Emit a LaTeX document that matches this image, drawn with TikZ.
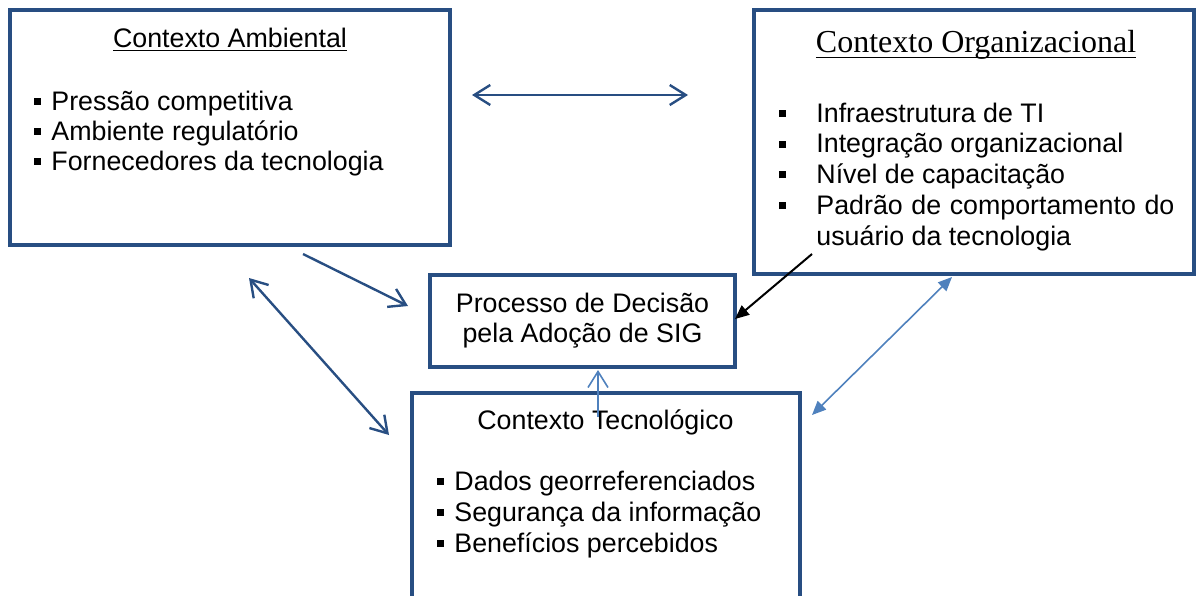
\documentclass[tikz,border=0pt]{standalone}
\usepackage{fontspec}
\setmainfont{Liberation Sans}
\newfontfamily\timesfont{Liberation Serif}
\usetikzlibrary{arrows.meta}
\definecolor{boxblue}{RGB}{40,78,130}
\definecolor{lightblue}{RGB}{79,129,189}
\newcommand{\sq}{\rule[2.6pt]{3.5pt}{3.5pt}}
\newcommand{\lowline}[1]{\setbox0\hbox{#1}\rlap{\rule[-3pt]{\wd0}{0.6pt}}\box0}
\tikzstyle{context} = [rectangle, draw = boxblue, line width = 2.2pt]
\tikzstyle{itemlist} = [anchor = base west, inner sep = 0pt, font = \fontsize{13.4}{15}\selectfont]
\tikzstyle{title} = [anchor = base, inner sep = 0pt, font = \fontsize{13.4}{15}\selectfont]

\begin{document}
\begin{tikzpicture}[x = 0.5pt, y = -0.5pt]
\useasboundingbox (0,0) rectangle (1197,595);

\node (ambBox) [context, minimum width = 220pt, minimum height = 117.5pt] at (230,127.5) {};
\node (orgBox) [context, minimum width = 220pt, minimum height = 132pt] at (974,142) {};
\node (procBox) [context, minimum width = 152.5pt, minimum height = 46pt, align = center, font = \fontsize{13.4}{15}\selectfont] at (582.5,321) {Processo de Decisão\\pela Adoção de SIG};
\node (tecBox) [context, minimum width = 194pt, minimum height = 128.5pt] at (606,521.5) {};

\node (ambTitle) [title] at (230,47) {\underline{Contexto Ambiental}};
\node (orgTitle) [title, font = \timesfont\fontsize{16}{19}\selectfont] at (976,52) {\lowline{Contexto Organizacional}};
\node (tecTitle) [title] at (605.5,429) {Contexto Tecnológico};

\node (ambList) [itemlist] at (34,110) {\begin{tabular}[t]{@{}l@{}}\sq\hspace{5pt}Pressão competitiva\\ \sq\hspace{5pt}Ambiente regulatório\\ \sq\hspace{5pt}Fornecedores da tecnologia\end{tabular}};
\node (orgList) [itemlist, font = \fontsize{13.4}{15.4}\selectfont] at (779,122) {\begin{tabular}[t]{@{}l@{\hspace{15pt}}p{179pt}@{}}\sq & Infraestrutura de TI\\ \sq & Integração organizacional\\ \sq & Nível de capacitação\\ \sq & Padrão de comportamento do usuário da tecnologia\end{tabular}};
\node (tecList) [itemlist, font = \fontsize{13.4}{15.5}\selectfont] at (437,490) {\begin{tabular}[t]{@{}l@{}}\sq\hspace{5pt}Dados georreferenciados\\ \sq\hspace{5pt}Segurança da informação\\ \sq\hspace{5pt}Benefícios percebidos\end{tabular}};

\coordinate (hLeft) at (472,95);
\coordinate (hRight) at (688,95);
\coordinate (ambOut) at (303,254);
\coordinate (procIn) at (408,306);
\coordinate (ambLow) at (249,278);
\coordinate (tecHigh) at (389,435);
\coordinate (orgOut) at (812,254);
\coordinate (procEast) at (735,319);
\coordinate (tecRight) at (812,415);
\coordinate (orgLow) at (952,277);
\coordinate (tecTop) at (598,417);
\coordinate (procSouth) at (598,370);

\draw [<->, >={Straight Barb[length=8pt, width=10pt]}, line width = 1.2pt, color = boxblue] (hLeft) -- (hRight);
\draw [->, >={Straight Barb[length=8pt, width=10pt]}, line width = 1.2pt, color = boxblue] (ambOut) -- (procIn);
\draw [<->, >={Straight Barb[length=8pt, width=10pt]}, line width = 1.2pt, color = boxblue] (ambLow) -- (tecHigh);
\draw [->, >={Triangle[length=7pt, width=6pt]}, line width = 1pt, color = black] (orgOut) -- (procEast);
\draw [<->, >={Triangle[length=7pt, width=6pt]}, line width = 0.8pt, color = lightblue] (tecRight) -- (orgLow);
\draw [->, >={Straight Barb[length=8pt, width=10pt]}, line width = 0.8pt, color = lightblue] (tecTop) -- (procSouth);
\end{tikzpicture}
\end{document}
